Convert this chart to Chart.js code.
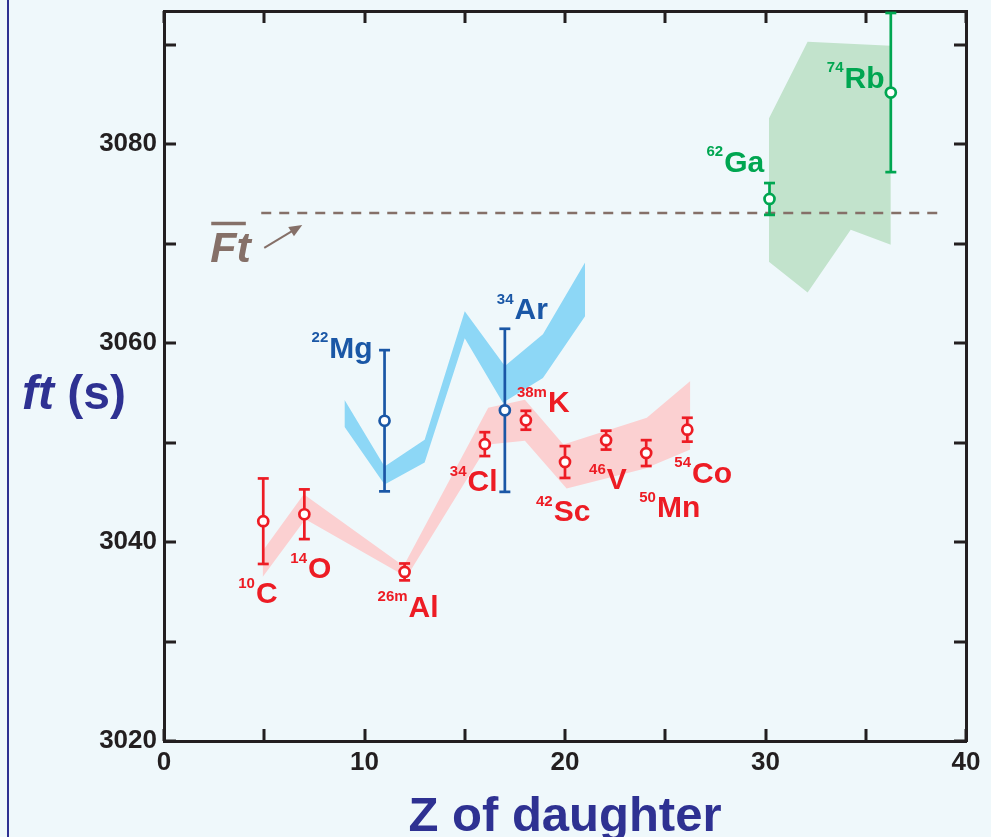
<!DOCTYPE html>
<html>
<head>
<meta charset="utf-8">
<script src="https://cdn.jsdelivr.net/npm/chart.js@4.4.0/dist/chart.umd.min.js"></script>
<style>
  html, body { margin: 0; padding: 0; background: #eff8fb; }
  #wrap { position: relative; width: 991px; height: 837px; overflow: hidden; }
  #wrap:before { content: ''; position: absolute; left: 7px; top: 0; bottom: 0; width: 2px; background: #2e3192; }
  canvas { position: absolute; left: 0; top: 0; }
</style>
</head>
<body>
<div id="wrap"><canvas id="ftChart" width="991" height="837"></canvas></div>
<script>
// ft values of superallowed emitters vs Z of daughter

// red cases
const redZ = [4.95, 7.0, 12.0, 16.0, 18.05, 20.0, 22.05, 24.05, 26.1];
const redFt = [3042.1, 3042.8, 3037.0, 3049.85, 3052.25, 3048.05, 3050.25, 3048.95, 3051.3];
const redErr = [4.3, 2.5, 0.85, 1.2, 0.95, 1.6, 0.95, 1.3, 1.2];
const redSup = ['10', '14', '26m', '34', '38m', '42', '46', '50', '54'];
const redSym = ['C', 'O', 'Al', 'Cl', 'K', 'Sc', 'V', 'Mn', 'Co'];

// blue cases
const blueZ = [11.0, 17.0];
const blueFt = [3052.2, 3053.25];
const blueErr = [7.1, 8.2];
const blueSup = ['22', '34'];
const blueSym = ['Mg', 'Ar'];

// green cases
const greenZ = [30.2, 36.25];
const greenFt = [3074.5, 3085.2];
const greenErr = [1.6, 8.0];
const greenSup = ['62', '74'];
const greenSym = ['Ga', 'Rb'];

// calculated bands (upper / lower edges)
const redBandUpper = [[4.92, 3039.1], [6.97, 3044.8], [11.95, 3037.6], [16.17, 3053.5], [18.0, 3054.3], [19.92, 3049.8], [24.08, 3052.5], [26.25, 3056.2]];
const redBandLower = [[4.92, 3036.5], [7.05, 3042.3], [12.1, 3036.5], [16.17, 3049.8], [18.0, 3050.2], [20.08, 3045.4], [24.0, 3047.4], [26.25, 3049.3]];
const blueBandUpper = [[9.0, 3054.3], [11.0, 3047.6], [13.0, 3050.3], [15.0, 3063.2], [17.0, 3057.7], [18.9, 3060.9], [21.0, 3068.1]];
const blueBandLower = [[9.0, 3051.6], [11.0, 3045.8], [13.0, 3048.0], [15.0, 3060.5], [16.9, 3054.0], [18.9, 3056.5], [21.0, 3062.7]];
const greenBandUpper = [[30.17, 3082.6], [32.1, 3090.3], [36.25, 3089.9]];
const greenBandLower = [[30.17, 3068.2], [32.1, 3065.1], [34.25, 3071.4], [36.25, 3069.9]];

// average Ft line
const ftAvg = 3073.1;
const ftLineZ = [4.85, 38.6];

// axes
const xTicks = [0, 10, 20, 30, 40];
const xMinorTicks = [5, 15, 25, 35];
const yTicks = [3020, 3040, 3060, 3080];
const yMinorTicks = [3030, 3050, 3070, 3090];

// label placement, pixel offsets from each point
const redLabelOff = [[-25, 82], [-14, 64], [-27, 45], [-35, 47], [-9, -8], [-29, 59], [-17, 49], [-7, 64], [-13, 53]];
const blueLabelOff = [[-73, -63], [-8, -91]];
const greenLabelOff = [[-63, -27], [-64, -5]];

const RED = '#ed1c24';
const BLUE = '#1a57a6';
const GREEN = '#00a651';
const INK = '#231f20';
const TITLE = '#2e3192';
const BROWN = '#857068';
const FONT = '"Liberation Sans", Arial, Helvetica, sans-serif';

function toPoints(arr) {
    return arr.map(p => ({ x: p[0], y: p[1] }));
}

function errorBars(z, ft, err) {
    const pts = [];
    z.forEach((v, i) => {
        pts.push({ x: v, y: ft[i] - err[i] }, { x: v, y: ft[i] + err[i] }, { x: v, y: null });
    });
    return pts;
}

function markers(z, ft) {
    return z.map((v, i) => ({ x: v, y: ft[i] }));
}

function band(upper, lower, color) {
    return [{
        data: toPoints(upper),
        showLine: true,
        borderWidth: 0,
        borderColor: 'rgba(0,0,0,0)',
        backgroundColor: color,
        pointRadius: 0,
        fill: '+1',
        tension: 0,
        order: 5
    }, {
        data: toPoints(lower),
        showLine: true,
        borderWidth: 0,
        borderColor: 'rgba(0,0,0,0)',
        pointRadius: 0,
        fill: false,
        tension: 0,
        order: 5
    }];
}

function errSet(z, ft, err, color) {
    return {
        data: errorBars(z, ft, err),
        showLine: true,
        spanGaps: false,
        borderColor: color,
        borderWidth: 2.7,
        pointStyle: 'line',
        pointRadius: 5.5,
        pointBorderWidth: 2.7,
        pointBorderColor: color,
        order: 2
    };
}

function markerSet(z, ft, color) {
    return {
        data: markers(z, ft),
        showLine: false,
        pointStyle: 'circle',
        pointRadius: 5,
        pointBorderWidth: 2.7,
        pointBorderColor: color,
        pointBackgroundColor: '#ffffff',
        order: 0
    };
}

const labelGroups = [
    { z: redZ, ft: redFt, sup: redSup, sym: redSym, off: redLabelOff, color: RED },
    { z: blueZ, ft: blueFt, sup: blueSup, sym: blueSym, off: blueLabelOff, color: BLUE },
    { z: greenZ, ft: greenFt, sup: greenSup, sym: greenSym, off: greenLabelOff, color: GREEN }
];

// inward tick marks on all four sides
const frameTicks = {
    id: 'frameTicks',
    afterDraw(chart) {
        const { ctx, chartArea: a, scales: { x, y } } = chart;
        const len = 12;
        ctx.save();
        ctx.strokeStyle = INK;
        ctx.lineWidth = 3;
        ctx.beginPath();
        xTicks.concat(xMinorTicks).forEach(v => {
            const px = Math.round(x.getPixelForValue(v));
            ctx.moveTo(px, a.bottom); ctx.lineTo(px, a.bottom - len);
            ctx.moveTo(px, a.top); ctx.lineTo(px, a.top + len);
        });
        yTicks.concat(yMinorTicks).forEach(v => {
            const py = Math.round(y.getPixelForValue(v));
            ctx.moveTo(a.left, py); ctx.lineTo(a.left + len, py);
            ctx.moveTo(a.right, py); ctx.lineTo(a.right - len, py);
        });
        ctx.stroke();
        ctx.restore();
    }
};

// isotope labels, Ft annotation and axis titles
const annotations = {
    id: 'annotations',
    afterDatasetsDraw(chart) {
        const { ctx, chartArea: a, scales: { x, y } } = chart;
        ctx.save();
        ctx.textBaseline = 'alphabetic';
        ctx.textAlign = 'left';
        labelGroups.forEach(g => {
            g.z.forEach((z, i) => {
                const px = x.getPixelForValue(z) + g.off[i][0];
                const py = y.getPixelForValue(g.ft[i]) + g.off[i][1];
                ctx.fillStyle = g.color;
                ctx.font = 'bold 15px ' + FONT;
                ctx.fillText(g.sup[i], px, py - 15.5);
                const w = ctx.measureText(g.sup[i]).width;
                ctx.font = 'bold 30px ' + FONT;
                ctx.fillText(g.sym[i], px + w + 1, py);
            });
        });

        // Ft bar label with arrow
        const fx = x.getPixelForValue(ftLineZ[0]);
        const fy = y.getPixelForValue(ftAvg);
        ctx.fillStyle = BROWN;
        ctx.strokeStyle = BROWN;
        ctx.font = 'italic bold 43px ' + FONT;
        ctx.fillText('Ft', fx - 51, fy + 49);
        const tw = ctx.measureText('Ft').width;
        ctx.lineWidth = 3.5;
        ctx.beginPath();
        ctx.moveTo(fx - 50, fy + 10.5);
        ctx.lineTo(fx - 52 + tw - 4, fy + 10.5);
        ctx.stroke();
        const ax0 = fx + 3, ay0 = fy + 35, ax1 = fx + 41, ay1 = fy + 12;
        const ang = Math.atan2(ay1 - ay0, ax1 - ax0);
        ctx.lineWidth = 2;
        ctx.beginPath();
        ctx.moveTo(ax0, ay0);
        ctx.lineTo(ax1 - 10 * Math.cos(ang), ay1 - 10 * Math.sin(ang));
        ctx.stroke();
        ctx.beginPath();
        ctx.moveTo(ax1, ay1);
        ctx.lineTo(ax1 - 13 * Math.cos(ang) + 5.5 * Math.sin(ang), ay1 - 13 * Math.sin(ang) - 5.5 * Math.cos(ang));
        ctx.lineTo(ax1 - 13 * Math.cos(ang) - 5.5 * Math.sin(ang), ay1 - 13 * Math.sin(ang) + 5.5 * Math.cos(ang));
        ctx.closePath();
        ctx.fill();

        // axis titles
        ctx.fillStyle = TITLE;
        ctx.font = 'italic bold 48px ' + FONT;
        const yt = (a.top + a.bottom) / 2 + 33;
        ctx.fillText('ft', 22, yt);
        const fw = ctx.measureText('ft ').width;
        ctx.font = 'bold 48px ' + FONT;
        ctx.fillText('(s)', 22 + fw, yt);
        ctx.textAlign = 'center';
        ctx.font = 'bold 49px ' + FONT;
        ctx.fillText('Z of daughter', (a.left + a.right) / 2, chart.height - 6);
        ctx.restore();
    }
};

const datasets = [
    markerSet(redZ, redFt, RED),
    markerSet(blueZ, blueFt, BLUE),
    markerSet(greenZ, greenFt, GREEN),
    errSet(redZ, redFt, redErr, RED),
    errSet(blueZ, blueFt, blueErr, BLUE),
    errSet(greenZ, greenFt, greenErr, GREEN),
    {
        data: ftLineZ.map(v => ({ x: v, y: ftAvg })),
        showLine: true,
        borderColor: BROWN,
        borderWidth: 2.5,
        borderDash: [10, 8],
        pointRadius: 0,
        order: 3
    },
    ...band(redBandUpper, redBandLower, '#fbd0d1'),
    ...band(blueBandUpper, blueBandLower, '#8dd7f6'),
    ...band(greenBandUpper, greenBandLower, '#c2e3cc')
];

const hiddenAxis = {
    type: 'linear',
    ticks: { display: false },
    grid: { display: false, drawTicks: false },
    border: { display: true, color: INK, width: 3 }
};

new Chart(document.getElementById('ftChart').getContext('2d'), {
    type: 'scatter',
    data: { datasets: datasets },
    options: {
        responsive: false,
        animation: false,
        events: [],
        layout: { padding: { left: 0, right: 25, top: 11, bottom: 0 } },
        plugins: {
            legend: { display: false },
            tooltip: { enabled: false }
        },
        scales: {
            x: {
                type: 'linear',
                position: 'bottom',
                min: 0,
                max: 40,
                afterBuildTicks: s => { s.ticks = xTicks.map(v => ({ value: v })); },
                afterFit: s => { s.height = 96; s.paddingLeft = 0; s.paddingRight = 0; },
                grid: { display: false, drawTicks: false },
                border: { display: true, color: INK, width: 3 },
                ticks: {
                    color: INK,
                    padding: 6,
                    maxRotation: 0,
                    callback: v => String(v),
                    font: { family: FONT, size: 26, weight: 'bold' }
                }
            },
            y: {
                type: 'linear',
                position: 'left',
                min: 3020,
                max: 3093.4,
                afterBuildTicks: s => { s.ticks = yTicks.map(v => ({ value: v })); },
                afterFit: s => { s.width = 164; s.paddingTop = 0; s.paddingBottom = 0; },
                grid: { display: false, drawTicks: false },
                border: { display: true, color: INK, width: 3 },
                ticks: {
                    color: INK,
                    padding: 7,
                    callback: v => String(v),
                    font: { family: FONT, size: 26, weight: 'bold' }
                }
            },
            xTop: Object.assign({}, hiddenAxis, { position: 'top', afterFit: s => { s.height = 0; s.paddingLeft = 0; s.paddingRight = 0; } }),
            yRight: Object.assign({}, hiddenAxis, { position: 'right', afterFit: s => { s.width = 0; s.paddingTop = 0; s.paddingBottom = 0; } })
        }
    },
    plugins: [frameTicks, annotations]
});
</script>
</body>
</html>
